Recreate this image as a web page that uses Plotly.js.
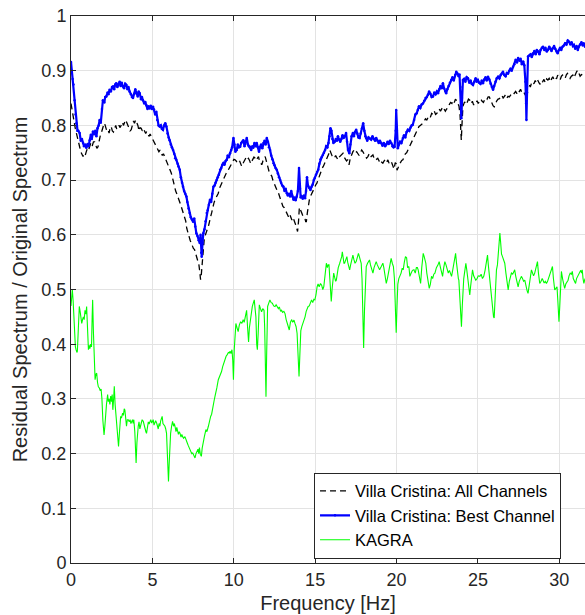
<!DOCTYPE html>
<html>
<head>
<meta charset="utf-8">
<script src="https://cdn.plot.ly/plotly-3.0.1.min.js"></script>
<style>html,body{margin:0;padding:0;background:#fff;}#chart{width:585px;height:615px;}</style>
</head>
<body>
<div id="chart"></div>
<script>
// Villa Cristina: Best Channel (blue)
const bestFreq = [0.00,0.05,0.10,0.15,0.22,0.28,0.33,0.40,0.45,0.53,0.60,0.67,0.74,0.80,0.87,0.94,1.02,1.08,1.15,1.22,1.28,1.35,1.42,1.49,1.56,1.63,1.70,1.76,1.83,1.90,1.96,2.05,2.10,2.17,2.25,2.30,2.37,2.45,2.52,2.58,2.65,2.72,2.78,2.85,2.92,2.99,3.05,3.12,3.19,3.26,3.33,3.40,3.47,3.53,3.60,3.68,3.74,3.81,3.88,3.95,4.02,4.10,4.16,4.22,4.30,4.36,4.42,4.50,4.56,4.63,4.70,4.76,4.83,4.90,4.97,5.04,5.10,5.17,5.24,5.30,5.38,5.45,5.52,5.58,5.65,5.72,5.79,5.86,5.93,6.00,6.06,6.13,6.20,6.27,6.34,6.40,6.47,6.55,6.60,6.68,6.75,6.82,6.88,6.95,7.02,7.09,7.15,7.22,7.29,7.36,7.43,7.50,7.57,7.63,7.70,7.77,7.84,7.91,7.96,8.00,8.03,8.08,8.13,8.20,8.27,8.34,8.40,8.47,8.54,8.61,8.68,8.75,8.82,8.88,8.95,9.02,9.09,9.16,9.23,9.30,9.36,9.43,9.50,9.57,9.63,9.70,9.77,9.84,9.90,9.98,10.04,10.10,10.18,10.25,10.32,10.39,10.46,10.52,10.59,10.66,10.73,10.80,10.87,10.93,11.00,11.07,11.14,11.20,11.27,11.34,11.41,11.48,11.55,11.62,11.68,11.75,11.82,11.89,11.96,12.03,12.10,12.16,12.23,12.30,12.37,12.44,12.50,12.57,12.64,12.71,12.78,12.85,12.91,12.98,13.05,13.12,13.19,13.26,13.32,13.39,13.46,13.53,13.60,13.67,13.74,13.80,13.87,13.94,14.01,14.06,14.11,14.17,14.24,14.31,14.38,14.44,14.50,14.56,14.63,14.71,14.78,14.85,14.92,14.98,15.05,15.12,15.19,15.26,15.33,15.40,15.47,15.54,15.61,15.68,15.75,15.82,15.88,15.94,16.00,16.06,16.12,16.20,16.27,16.34,16.40,16.47,16.54,16.61,16.68,16.75,16.82,16.90,16.96,17.02,17.10,17.16,17.24,17.32,17.38,17.45,17.52,17.59,17.66,17.73,17.80,17.88,17.95,18.02,18.08,18.13,18.20,18.28,18.36,18.44,18.52,18.60,18.68,18.75,18.83,18.91,18.98,19.06,19.14,19.22,19.30,19.37,19.45,19.52,19.60,19.67,19.75,19.82,19.88,19.95,19.98,20.02,20.08,20.15,20.22,20.30,20.39,20.46,20.54,20.62,20.70,20.78,20.86,20.93,21.00,21.08,21.16,21.24,21.31,21.38,21.46,21.54,21.62,21.70,21.78,21.86,21.93,22.00,22.08,22.16,22.24,22.32,22.40,22.48,22.55,22.62,22.70,22.78,22.85,22.92,23.00,23.05,23.12,23.20,23.28,23.36,23.44,23.52,23.60,23.67,23.74,23.82,23.87,23.92,23.96,23.98,24.02,24.08,24.15,24.23,24.31,24.39,24.47,24.55,24.62,24.70,24.78,24.86,24.93,25.00,25.08,25.16,25.24,25.31,25.39,25.47,25.54,25.62,25.70,25.78,25.86,25.93,26.00,26.08,26.16,26.24,26.32,26.40,26.47,26.54,26.62,26.70,26.78,26.85,26.93,27.01,27.08,27.16,27.24,27.32,27.40,27.47,27.55,27.62,27.70,27.78,27.85,27.92,27.96,27.98,28.02,28.08,28.16,28.24,28.31,28.39,28.47,28.55,28.62,28.70,28.78,28.85,28.93,29.00,29.08,29.15,29.23,29.30,29.38,29.45,29.52,29.60,29.68,29.75,29.83,29.90,29.98,30.05,30.12,30.20,30.28,30.36,30.44,30.52,30.60,30.68,30.76,30.84,30.90,30.98,31.06,31.14,31.20,31.28,31.36,31.44,31.50,31.58];
const bestRatio = [0.916,0.900,0.885,0.875,0.846,0.820,0.804,0.790,0.790,0.786,0.772,0.775,0.768,0.762,0.765,0.759,0.766,0.762,0.773,0.783,0.775,0.789,0.784,0.790,0.780,0.795,0.800,0.810,0.805,0.830,0.846,0.842,0.852,0.853,0.860,0.857,0.865,0.862,0.870,0.871,0.866,0.875,0.877,0.870,0.876,0.880,0.872,0.878,0.871,0.868,0.876,0.874,0.866,0.870,0.862,0.857,0.852,0.850,0.858,0.866,0.859,0.853,0.862,0.859,0.848,0.852,0.846,0.840,0.843,0.837,0.830,0.835,0.831,0.836,0.830,0.834,0.829,0.820,0.825,0.810,0.800,0.798,0.800,0.794,0.792,0.800,0.804,0.798,0.785,0.778,0.773,0.765,0.760,0.755,0.748,0.740,0.737,0.730,0.725,0.719,0.705,0.695,0.688,0.680,0.675,0.670,0.660,0.648,0.640,0.632,0.628,0.624,0.630,0.615,0.603,0.598,0.590,0.585,0.600,0.567,0.560,0.585,0.603,0.610,0.625,0.640,0.645,0.655,0.664,0.660,0.675,0.688,0.690,0.695,0.700,0.705,0.710,0.719,0.722,0.728,0.731,0.728,0.735,0.737,0.745,0.742,0.749,0.755,0.760,0.777,0.765,0.752,0.755,0.765,0.760,0.761,0.768,0.770,0.773,0.762,0.770,0.777,0.765,0.762,0.761,0.755,0.762,0.759,0.768,0.762,0.768,0.760,0.752,0.761,0.765,0.758,0.768,0.772,0.765,0.777,0.770,0.760,0.755,0.745,0.738,0.731,0.727,0.722,0.719,0.712,0.705,0.700,0.695,0.690,0.688,0.680,0.684,0.676,0.672,0.675,0.670,0.680,0.670,0.664,0.668,0.663,0.670,0.680,0.722,0.685,0.668,0.670,0.666,0.672,0.667,0.680,0.705,0.690,0.686,0.682,0.688,0.692,0.700,0.704,0.710,0.715,0.719,0.730,0.738,0.742,0.746,0.750,0.755,0.762,0.760,0.768,0.780,0.795,0.790,0.775,0.768,0.770,0.775,0.772,0.780,0.774,0.770,0.775,0.782,0.777,0.780,0.786,0.770,0.755,0.749,0.765,0.780,0.786,0.780,0.788,0.792,0.785,0.778,0.777,0.785,0.795,0.804,0.790,0.780,0.777,0.772,0.778,0.776,0.774,0.780,0.775,0.772,0.777,0.772,0.768,0.772,0.768,0.763,0.768,0.762,0.765,0.770,0.766,0.772,0.768,0.762,0.760,0.761,0.790,0.828,0.790,0.758,0.765,0.770,0.768,0.777,0.782,0.778,0.788,0.792,0.790,0.796,0.800,0.801,0.810,0.820,0.822,0.828,0.835,0.832,0.838,0.840,0.845,0.850,0.852,0.856,0.862,0.858,0.852,0.853,0.860,0.857,0.862,0.859,0.866,0.872,0.868,0.877,0.868,0.862,0.859,0.866,0.872,0.878,0.883,0.888,0.882,0.892,0.898,0.895,0.890,0.893,0.870,0.830,0.813,0.850,0.883,0.885,0.880,0.888,0.886,0.878,0.882,0.876,0.874,0.880,0.886,0.880,0.883,0.878,0.876,0.882,0.877,0.884,0.888,0.882,0.889,0.884,0.876,0.870,0.865,0.872,0.880,0.886,0.889,0.886,0.892,0.895,0.898,0.892,0.890,0.896,0.895,0.900,0.904,0.900,0.907,0.912,0.920,0.915,0.923,0.918,0.922,0.912,0.917,0.910,0.880,0.840,0.810,0.860,0.926,0.928,0.930,0.925,0.932,0.936,0.930,0.938,0.935,0.930,0.938,0.942,0.944,0.938,0.942,0.935,0.938,0.944,0.940,0.936,0.941,0.945,0.940,0.935,0.932,0.938,0.942,0.938,0.944,0.946,0.950,0.948,0.955,0.953,0.948,0.952,0.945,0.947,0.940,0.945,0.938,0.944,0.948,0.952,0.946,0.950,0.944];

// Villa Cristina: All Channels (black dashed)
const allFreq = [0.00,0.05,0.12,0.20,0.26,0.33,0.40,0.46,0.53,0.60,0.67,0.74,0.80,0.87,0.94,1.01,1.08,1.15,1.22,1.30,1.38,1.45,1.52,1.59,1.66,1.72,1.79,1.86,1.93,2.00,2.06,2.13,2.20,2.27,2.34,2.40,2.47,2.54,2.61,2.68,2.75,2.81,2.88,2.95,3.02,3.09,3.16,3.22,3.29,3.36,3.43,3.50,3.57,3.63,3.70,3.77,3.84,3.90,3.97,4.04,4.11,4.18,4.24,4.31,4.38,4.45,4.52,4.59,4.65,4.72,4.79,4.86,4.93,5.00,5.06,5.13,5.20,5.27,5.34,5.40,5.47,5.54,5.61,5.68,5.75,5.82,5.88,5.95,6.02,6.09,6.16,6.23,6.30,6.36,6.43,6.50,6.57,6.64,6.70,6.77,6.84,6.91,6.98,7.05,7.11,7.18,7.25,7.32,7.39,7.45,7.52,7.59,7.66,7.73,7.80,7.86,7.92,7.96,8.00,8.03,8.08,8.13,8.18,8.23,8.30,8.37,8.44,8.50,8.57,8.64,8.71,8.78,8.85,8.92,8.98,9.05,9.12,9.19,9.26,9.33,9.40,9.46,9.53,9.60,9.67,9.74,9.80,9.87,9.94,10.01,10.08,10.15,10.22,10.29,10.36,10.42,10.49,10.56,10.63,10.70,10.77,10.83,10.90,10.97,11.04,11.10,11.17,11.24,11.31,11.38,11.45,11.52,11.58,11.65,11.72,11.79,11.86,11.93,12.00,12.06,12.13,12.20,12.27,12.34,12.40,12.47,12.54,12.61,12.68,12.75,12.82,12.88,12.95,13.02,13.09,13.16,13.23,13.30,13.36,13.43,13.50,13.57,13.64,13.70,13.77,13.84,13.92,13.98,14.03,14.09,14.16,14.23,14.30,14.37,14.42,14.46,14.52,14.58,14.65,14.71,14.78,14.85,14.91,14.98,15.05,15.10,15.17,15.24,15.30,15.37,15.44,15.50,15.57,15.64,15.70,15.77,15.84,15.90,15.96,16.03,16.10,16.18,16.26,16.34,16.40,16.48,16.56,16.64,16.71,16.78,16.86,16.93,17.00,17.08,17.16,17.24,17.32,17.40,17.48,17.55,17.62,17.70,17.78,17.86,17.93,18.00,18.08,18.16,18.24,18.32,18.40,18.48,18.55,18.62,18.70,18.78,18.85,18.93,19.00,19.08,19.16,19.24,19.32,19.40,19.47,19.55,19.62,19.70,19.78,19.85,19.92,19.98,20.03,20.08,20.16,20.24,20.32,20.39,20.46,20.54,20.62,20.70,20.78,20.86,20.93,21.00,21.08,21.16,21.24,21.31,21.38,21.46,21.54,21.62,21.70,21.78,21.86,21.93,22.00,22.08,22.16,22.24,22.32,22.40,22.48,22.55,22.62,22.70,22.78,22.85,22.92,23.00,23.08,23.16,23.24,23.32,23.40,23.47,23.55,23.62,23.70,23.77,23.84,23.90,23.95,23.98,24.02,24.08,24.18,24.26,24.34,24.42,24.50,24.58,24.66,24.73,24.80,24.88,24.95,25.02,25.10,25.18,25.26,25.34,25.40,25.48,25.56,25.63,25.70,25.78,25.86,25.93,26.00,26.08,26.16,26.24,26.32,26.40,26.47,26.55,26.62,26.70,26.78,26.85,26.93,27.01,27.08,27.16,27.24,27.32,27.40,27.47,27.55,27.62,27.70,27.78,27.85,27.92,27.98,28.02,28.06,28.14,28.22,28.30,28.36,28.44,28.52,28.60,28.67,28.75,28.82,28.90,28.98,29.06,29.14,29.22,29.30,29.38,29.46,29.53,29.60,29.68,29.76,29.83,29.90,29.98,30.06,30.13,30.20,30.28,30.36,30.44,30.50,30.58,30.66,30.74,30.83,30.90,30.98,31.06,31.13,31.20,31.28,31.36,31.45,31.55];
const allRatio = [0.840,0.830,0.816,0.800,0.795,0.786,0.775,0.768,0.761,0.752,0.748,0.743,0.748,0.745,0.752,0.758,0.755,0.761,0.768,0.762,0.770,0.770,0.765,0.758,0.761,0.772,0.780,0.786,0.795,0.800,0.804,0.796,0.790,0.792,0.786,0.795,0.798,0.790,0.788,0.795,0.800,0.793,0.798,0.800,0.796,0.800,0.806,0.800,0.804,0.810,0.805,0.800,0.796,0.790,0.792,0.798,0.808,0.804,0.810,0.805,0.800,0.790,0.796,0.795,0.790,0.794,0.789,0.785,0.789,0.786,0.780,0.784,0.780,0.776,0.772,0.768,0.765,0.760,0.758,0.752,0.755,0.749,0.745,0.748,0.743,0.738,0.735,0.731,0.725,0.720,0.713,0.705,0.695,0.688,0.680,0.675,0.670,0.665,0.658,0.652,0.645,0.640,0.633,0.625,0.612,0.603,0.598,0.590,0.585,0.580,0.575,0.573,0.565,0.560,0.554,0.545,0.530,0.518,0.525,0.536,0.560,0.580,0.590,0.597,0.605,0.610,0.615,0.625,0.632,0.640,0.652,0.658,0.664,0.668,0.672,0.676,0.685,0.690,0.694,0.700,0.703,0.707,0.712,0.715,0.719,0.722,0.728,0.731,0.735,0.738,0.737,0.735,0.731,0.731,0.735,0.728,0.725,0.730,0.734,0.737,0.742,0.738,0.740,0.736,0.730,0.734,0.738,0.742,0.740,0.736,0.740,0.743,0.735,0.732,0.728,0.735,0.740,0.743,0.735,0.728,0.719,0.712,0.710,0.707,0.700,0.695,0.688,0.682,0.680,0.676,0.668,0.662,0.658,0.652,0.650,0.646,0.640,0.636,0.633,0.638,0.630,0.627,0.632,0.625,0.621,0.615,0.606,0.625,0.650,0.646,0.640,0.636,0.633,0.630,0.624,0.624,0.640,0.655,0.665,0.670,0.675,0.679,0.682,0.688,0.692,0.694,0.700,0.708,0.713,0.720,0.722,0.725,0.730,0.735,0.737,0.742,0.748,0.755,0.750,0.745,0.743,0.740,0.745,0.739,0.737,0.742,0.745,0.748,0.749,0.742,0.738,0.735,0.737,0.728,0.740,0.748,0.752,0.755,0.750,0.752,0.749,0.745,0.750,0.755,0.752,0.748,0.745,0.740,0.743,0.748,0.742,0.745,0.746,0.740,0.742,0.738,0.740,0.735,0.738,0.733,0.731,0.735,0.738,0.733,0.737,0.730,0.728,0.732,0.725,0.720,0.732,0.730,0.718,0.722,0.728,0.732,0.736,0.737,0.742,0.748,0.750,0.755,0.760,0.765,0.770,0.774,0.780,0.785,0.788,0.792,0.798,0.800,0.802,0.804,0.808,0.812,0.810,0.816,0.818,0.815,0.822,0.820,0.826,0.820,0.822,0.826,0.830,0.826,0.832,0.834,0.830,0.826,0.830,0.832,0.838,0.842,0.840,0.846,0.842,0.848,0.845,0.840,0.835,0.820,0.790,0.773,0.800,0.835,0.843,0.838,0.842,0.848,0.846,0.840,0.844,0.838,0.837,0.842,0.845,0.840,0.843,0.848,0.844,0.842,0.846,0.850,0.848,0.852,0.852,0.846,0.840,0.836,0.834,0.840,0.845,0.848,0.849,0.852,0.855,0.850,0.852,0.856,0.850,0.853,0.852,0.855,0.858,0.856,0.859,0.862,0.858,0.864,0.862,0.866,0.860,0.862,0.859,0.855,0.852,0.865,0.874,0.876,0.870,0.878,0.880,0.876,0.882,0.878,0.883,0.878,0.875,0.882,0.880,0.884,0.878,0.885,0.883,0.886,0.880,0.885,0.889,0.884,0.888,0.885,0.892,0.888,0.884,0.890,0.892,0.888,0.886,0.893,0.895,0.890,0.886,0.890,0.892,0.887,0.894,0.898,0.901,0.895,0.890,0.893,0.892,0.889];

// KAGRA (green)
const kagraFreq = [0.00,0.03,0.08,0.13,0.17,0.22,0.27,0.31,0.36,0.39,0.44,0.51,0.56,0.61,0.66,0.71,0.76,0.81,0.86,0.92,0.96,1.00,1.03,1.07,1.12,1.16,1.21,1.26,1.30,1.33,1.38,1.42,1.48,1.53,1.58,1.63,1.68,1.74,1.80,1.85,1.90,1.96,2.03,2.08,2.12,2.18,2.25,2.29,2.34,2.39,2.44,2.49,2.53,2.57,2.62,2.66,2.71,2.76,2.80,2.85,2.92,2.98,3.05,3.10,3.17,3.22,3.27,3.31,3.36,3.41,3.46,3.52,3.58,3.63,3.68,3.72,3.78,3.82,3.86,3.92,3.97,4.00,4.05,4.09,4.13,4.18,4.23,4.27,4.32,4.37,4.44,4.50,4.55,4.60,4.64,4.70,4.75,4.80,4.85,4.90,4.96,5.00,5.05,5.10,5.15,5.20,5.26,5.31,5.36,5.41,5.46,5.51,5.56,5.60,5.65,5.72,5.77,5.82,5.87,5.92,5.96,5.99,6.03,6.08,6.12,6.18,6.24,6.30,6.35,6.39,6.45,6.50,6.53,6.60,6.65,6.70,6.76,6.81,6.86,6.92,7.00,7.06,7.10,7.15,7.20,7.26,7.31,7.36,7.42,7.48,7.55,7.62,7.68,7.73,7.80,7.85,7.89,7.95,8.01,8.06,8.13,8.20,8.29,8.35,8.44,8.50,8.58,8.64,8.70,8.74,8.80,8.85,8.90,8.96,9.05,9.12,9.19,9.25,9.32,9.38,9.46,9.53,9.60,9.67,9.73,9.77,9.83,9.89,9.94,9.98,10.03,10.08,10.13,10.20,10.27,10.34,10.42,10.50,10.58,10.64,10.70,10.75,10.79,10.85,10.91,10.96,11.04,11.10,11.14,11.20,11.26,11.31,11.36,11.41,11.45,11.50,11.57,11.64,11.71,11.78,11.86,11.90,11.94,11.98,12.02,12.08,12.15,12.22,12.30,12.37,12.45,12.53,12.60,12.68,12.74,12.80,12.88,12.94,13.00,13.08,13.15,13.22,13.29,13.35,13.41,13.48,13.56,13.62,13.70,13.76,13.83,13.89,13.93,13.97,14.01,14.06,14.12,14.18,14.25,14.32,14.38,14.45,14.52,14.57,14.64,14.72,14.78,14.85,14.92,14.98,15.05,15.12,15.18,15.25,15.33,15.40,15.47,15.53,15.60,15.65,15.69,15.75,15.80,15.85,15.90,15.95,15.99,16.04,16.10,16.14,16.20,16.26,16.30,16.36,16.42,16.51,16.58,16.63,16.67,16.72,16.77,16.81,16.88,16.95,17.00,17.06,17.12,17.18,17.25,17.32,17.38,17.45,17.52,17.60,17.66,17.70,17.76,17.83,17.88,17.93,17.98,18.03,18.08,18.14,18.22,18.28,18.34,18.40,18.48,18.55,18.62,18.70,18.75,18.82,18.90,18.96,19.03,19.10,19.16,19.22,19.30,19.37,19.44,19.53,19.60,19.67,19.74,19.81,19.87,19.93,19.98,20.03,20.08,20.14,20.21,20.28,20.35,20.41,20.48,20.55,20.62,20.68,20.76,20.82,20.90,20.98,21.07,21.15,21.22,21.28,21.33,21.40,21.48,21.55,21.64,21.70,21.76,21.80,21.86,21.92,22.01,22.08,22.15,22.22,22.29,22.36,22.45,22.55,22.62,22.70,22.76,22.83,22.90,22.97,23.04,23.10,23.18,23.25,23.31,23.38,23.45,23.52,23.58,23.63,23.68,23.74,23.80,23.83,23.88,23.93,23.99,24.04,24.09,24.13,24.20,24.26,24.32,24.40,24.46,24.50,24.55,24.62,24.67,24.74,24.80,24.87,24.95,25.02,25.12,25.20,25.28,25.36,25.44,25.50,25.55,25.59,25.64,25.70,25.77,25.83,25.90,25.96,26.00,26.05,26.10,26.14,26.20,26.25,26.30,26.35,26.40,26.45,26.51,26.58,26.65,26.72,26.80,26.86,26.93,27.00,27.06,27.14,27.20,27.26,27.32,27.40,27.47,27.54,27.60,27.67,27.74,27.81,27.88,27.95,28.02,28.08,28.15,28.22,28.29,28.36,28.42,28.49,28.56,28.62,28.66,28.72,28.80,28.88,28.95,29.00,29.07,29.14,29.21,29.28,29.34,29.41,29.47,29.53,29.58,29.64,29.72,29.79,29.86,29.91,29.95,29.98,30.03,30.08,30.13,30.20,30.27,30.33,30.40,30.47,30.54,30.60,30.67,30.74,30.80,30.86,30.93,31.00,31.06,31.13,31.20,31.25,31.32,31.37,31.41,31.46,31.51,31.58];
const kagraRatio = [0.470,0.493,0.500,0.480,0.445,0.410,0.395,0.390,0.385,0.387,0.430,0.469,0.460,0.445,0.438,0.445,0.450,0.445,0.462,0.455,0.469,0.440,0.405,0.390,0.398,0.392,0.400,0.395,0.450,0.481,0.420,0.360,0.335,0.345,0.347,0.330,0.322,0.320,0.315,0.318,0.300,0.260,0.234,0.250,0.274,0.290,0.308,0.295,0.300,0.290,0.305,0.295,0.308,0.280,0.300,0.323,0.290,0.270,0.262,0.240,0.213,0.240,0.268,0.265,0.274,0.270,0.282,0.280,0.265,0.250,0.262,0.262,0.258,0.262,0.255,0.259,0.262,0.255,0.262,0.240,0.200,0.183,0.220,0.245,0.250,0.258,0.245,0.250,0.255,0.262,0.259,0.250,0.245,0.240,0.237,0.250,0.258,0.254,0.259,0.262,0.256,0.260,0.262,0.252,0.258,0.260,0.256,0.250,0.245,0.255,0.250,0.260,0.265,0.268,0.255,0.252,0.250,0.245,0.237,0.200,0.165,0.149,0.180,0.225,0.237,0.250,0.259,0.250,0.255,0.250,0.240,0.248,0.244,0.235,0.240,0.237,0.230,0.235,0.231,0.228,0.231,0.225,0.220,0.219,0.215,0.210,0.207,0.205,0.200,0.201,0.195,0.192,0.200,0.205,0.208,0.200,0.211,0.198,0.195,0.210,0.225,0.232,0.244,0.240,0.250,0.260,0.268,0.272,0.285,0.290,0.298,0.305,0.311,0.320,0.335,0.340,0.344,0.350,0.359,0.365,0.372,0.378,0.381,0.385,0.384,0.387,0.383,0.390,0.370,0.335,0.390,0.425,0.438,0.430,0.423,0.435,0.441,0.438,0.445,0.440,0.450,0.458,0.462,0.430,0.404,0.430,0.450,0.456,0.469,0.475,0.481,0.465,0.450,0.400,0.390,0.420,0.472,0.465,0.459,0.465,0.462,0.430,0.350,0.304,0.380,0.469,0.475,0.481,0.476,0.475,0.470,0.469,0.472,0.466,0.465,0.468,0.460,0.462,0.458,0.460,0.456,0.445,0.438,0.430,0.426,0.440,0.445,0.440,0.444,0.438,0.432,0.420,0.390,0.360,0.341,0.380,0.425,0.432,0.438,0.444,0.450,0.460,0.465,0.469,0.470,0.478,0.481,0.476,0.482,0.481,0.490,0.505,0.510,0.505,0.511,0.508,0.500,0.505,0.530,0.545,0.548,0.540,0.545,0.545,0.520,0.490,0.478,0.500,0.525,0.530,0.522,0.515,0.517,0.530,0.540,0.548,0.555,0.560,0.569,0.555,0.548,0.548,0.555,0.560,0.550,0.540,0.536,0.545,0.555,0.563,0.555,0.548,0.551,0.560,0.566,0.562,0.555,0.548,0.520,0.450,0.393,0.460,0.520,0.542,0.548,0.552,0.554,0.545,0.535,0.530,0.540,0.548,0.551,0.545,0.540,0.536,0.540,0.545,0.548,0.540,0.525,0.511,0.520,0.536,0.548,0.557,0.548,0.542,0.520,0.460,0.421,0.470,0.510,0.520,0.524,0.530,0.539,0.536,0.550,0.560,0.558,0.540,0.542,0.524,0.530,0.535,0.536,0.530,0.540,0.540,0.536,0.525,0.511,0.540,0.566,0.560,0.550,0.548,0.530,0.515,0.502,0.510,0.524,0.520,0.528,0.530,0.540,0.545,0.551,0.540,0.530,0.524,0.540,0.551,0.545,0.538,0.530,0.535,0.528,0.524,0.535,0.550,0.560,0.566,0.550,0.530,0.520,0.517,0.490,0.450,0.432,0.470,0.510,0.520,0.535,0.548,0.535,0.517,0.505,0.490,0.505,0.530,0.536,0.525,0.520,0.517,0.520,0.525,0.524,0.528,0.520,0.524,0.535,0.548,0.560,0.563,0.545,0.525,0.517,0.490,0.460,0.450,0.448,0.490,0.525,0.536,0.545,0.570,0.590,0.603,0.585,0.565,0.560,0.555,0.548,0.530,0.510,0.499,0.515,0.525,0.530,0.528,0.532,0.536,0.525,0.512,0.505,0.515,0.520,0.524,0.520,0.515,0.517,0.505,0.498,0.493,0.510,0.528,0.536,0.530,0.525,0.530,0.540,0.548,0.551,0.530,0.511,0.515,0.520,0.517,0.512,0.515,0.511,0.515,0.520,0.524,0.530,0.538,0.542,0.520,0.499,0.502,0.505,0.480,0.455,0.441,0.470,0.515,0.533,0.520,0.510,0.502,0.510,0.515,0.517,0.525,0.530,0.528,0.533,0.520,0.515,0.511,0.520,0.525,0.528,0.530,0.535,0.530,0.536,0.520,0.511,0.520];

const seriesNames = ["Villa Cristina: All Channels", "Villa Cristina: Best Channel", "KAGRA"];
const xTicks = [0, 5, 10, 15, 20, 25, 30];
const yTicks = [0, 0.1, 0.2, 0.3, 0.4, 0.5, 0.6, 0.7, 0.8, 0.9, 1];
const yTickText = ["0", "0.1", "0.2", "0.3", "0.4", "0.5", "0.6", "0.7", "0.8", "0.9", "1"];

const FONT = '"Liberation Sans", Arial, Helvetica, sans-serif';
const AX = '#262626';

const traces = [
  {x: allFreq, y: allRatio, name: seriesNames[0], type: 'scatter', mode: 'lines',
   line: {color: '#000000', width: 1.3, dash: '6px,4px'}},
  {x: bestFreq, y: bestRatio, name: seriesNames[1], type: 'scatter', mode: 'lines+markers',
   line: {color: '#0000ff', width: 2.2}, marker: {color: '#0000ff', size: 2.5}},
  {x: kagraFreq, y: kagraRatio, name: seriesNames[2], type: 'scatter', mode: 'lines',
   line: {color: '#00ff00', width: 1.1}}
];

const layout = {
  width: 585, height: 615,
  margin: {l: 71, r: 0, t: 16, b: 52, pad: 0},
  paper_bgcolor: '#ffffff', plot_bgcolor: '#ffffff',
  font: {family: FONT, color: AX, size: 18},
  showlegend: true,
  legend: {
    x: 0.4728, y: 0.008, xanchor: 'left', yanchor: 'bottom',
    bgcolor: '#ffffff', bordercolor: AX, borderwidth: 1,
    font: {family: FONT, size: 16.5, color: '#000000'},
    itemwidth: 30, tracegroupgap: 0,
    entrywidth: 228, entrywidthmode: 'pixels'
  },
  xaxis: {
    range: [0, 31.58], tickvals: xTicks, ticktext: xTicks.map(String),
    showgrid: true, gridcolor: '#e3e3e3', gridwidth: 1,
    zeroline: false, showline: true, linecolor: AX, linewidth: 1,
    mirror: 'ticks', ticks: 'inside', ticklen: 5, tickcolor: AX,
    tickfont: {family: FONT, size: 18, color: AX},
    title: {text: 'Frequency [Hz]', font: {family: FONT, size: 20, color: AX}, standoff: 7}
  },
  yaxis: {
    range: [0, 1], tickvals: yTicks, ticktext: yTickText,
    showgrid: true, gridcolor: '#e3e3e3', gridwidth: 1,
    zeroline: false, showline: true, linecolor: AX, linewidth: 1,
    mirror: false, ticks: 'inside', ticklen: 5, tickcolor: AX,
    tickfont: {family: FONT, size: 18, color: AX},
    title: {text: 'Residual Spectrum / Original Spectrum', font: {family: FONT, size: 20, color: AX}, standoff: 8}
  }
};

Plotly.newPlot('chart', traces, layout, {staticPlot: true, displayModeBar: false});
</script>
</body>
</html>
